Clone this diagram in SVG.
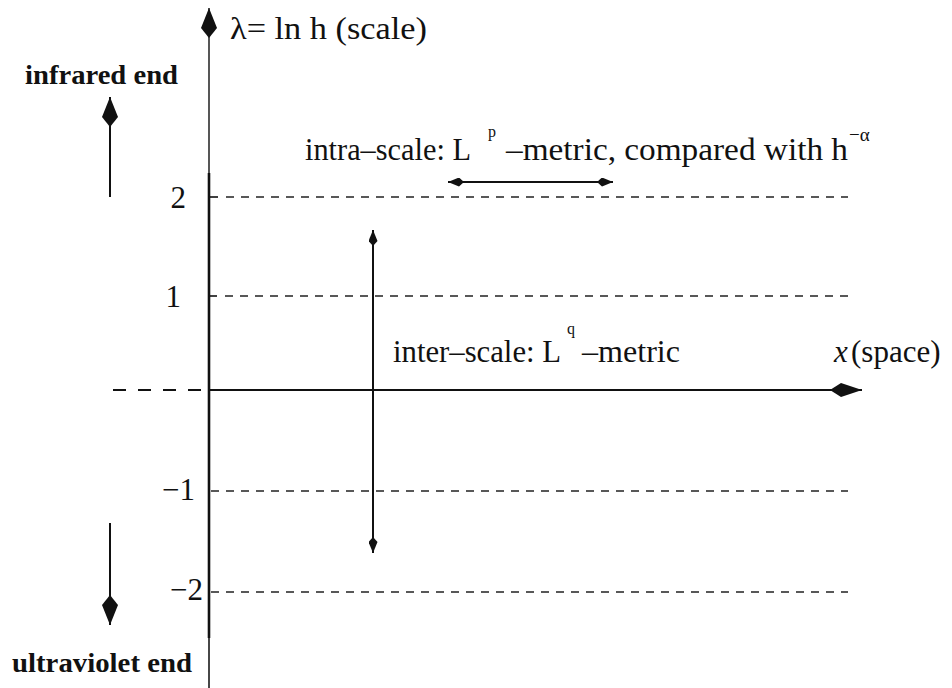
<svg xmlns="http://www.w3.org/2000/svg" width="952" height="688" viewBox="0 0 952 688">
<style>
.t{font-family:"Liberation Serif","Times New Roman",serif;font-size:31px;fill:#111}
.b{font-family:"Liberation Serif","Times New Roman",serif;font-size:27px;font-weight:bold;fill:#111}
.sup{font-family:"Liberation Serif","Times New Roman",serif;font-size:16px;fill:#111}
.ax{stroke:#111;stroke-width:2.2;fill:none}
.ar{stroke:#111;stroke-width:2;fill:none}
.dash{stroke:#222;stroke-width:1.6;stroke-dasharray:8 7;fill:none}
.dashL{stroke:#111;stroke-width:2;stroke-dasharray:13 12;fill:none}
.tick{stroke:#111;stroke-width:1.6}
</style>
<defs>
<marker id="big" markerUnits="userSpaceOnUse" viewBox="0 -8 30 16" markerWidth="30" markerHeight="16" refX="30" refY="0" orient="auto-start-reverse">
<path d="M30,0 L10,-8 L0,0 L10,8 Z" fill="#111"/>
</marker>
<marker id="bigh" markerUnits="userSpaceOnUse" viewBox="0 -7 32 14" markerWidth="32" markerHeight="14" refX="32" refY="0" orient="auto">
<path d="M32,0 L11,-7 L0,0 L11,7 Z" fill="#111"/>
</marker>
<marker id="sm" markerUnits="userSpaceOnUse" viewBox="0 -4.5 16 9" markerWidth="16" markerHeight="9" refX="16" refY="0" orient="auto-start-reverse">
<path d="M16,0 L5,-4.5 L0,0 L5,4.5 Z" fill="#111"/>
</marker>
</defs>

<g id="grid-lines">
<line class="tick" x1="209" y1="197" x2="218" y2="197"/>
<line class="dash" x1="226" y1="197" x2="848" y2="197"/>
<line class="tick" x1="209" y1="296" x2="217" y2="296"/>
<line class="dash" x1="225" y1="296" x2="848" y2="296"/>
<line class="dash" x1="211" y1="491" x2="848" y2="491"/>
<line class="dash" x1="211" y1="592" x2="848" y2="592"/>
<line class="dashL" x1="113" y1="390" x2="203" y2="390"/>
</g>

<g id="axes">
<line class="ax" x1="209" y1="173" x2="209" y2="8" marker-end="url(#big)" style="stroke:#444;stroke-width:1.8"/>
<line class="ax" x1="209" y1="173" x2="209" y2="638" style="stroke-width:2.6"/>
<line class="ax" x1="209" y1="638" x2="209" y2="688" style="stroke:#333;stroke-width:1.8"/>
<line class="ax" x1="209" y1="390" x2="862" y2="390" marker-end="url(#bigh)"/>
</g>

<g id="connectors">
<line class="ar" x1="110" y1="197" x2="110" y2="97" marker-end="url(#big)"/>
<line class="ar" x1="110" y1="523" x2="110" y2="625" marker-end="url(#big)"/>
<line class="ar" x1="448" y1="182" x2="613" y2="182" marker-start="url(#sm)" marker-end="url(#sm)"/>
<line class="ar" x1="373" y1="553" x2="373" y2="230" marker-start="url(#sm)" marker-end="url(#sm)"/>
</g>

<g id="axis-title">
<text class="t" x="230" y="39" textLength="197" lengthAdjust="spacingAndGlyphs">λ= ln h (scale)</text>
</g>
<g id="x-title">
<text class="t" x="834" y="362"><tspan font-style="italic">x</tspan><tspan x="851">(space)</tspan></text>
</g>

<g id="tick-labels">
<text class="t" x="186" y="208" text-anchor="end">2</text>
<text class="t" x="181" y="307" text-anchor="end">1</text>
<text class="t" x="195" y="500" text-anchor="end">−1</text>
<text class="t" x="203" y="600" text-anchor="end">−2</text>
</g>

<g id="infrared">
<text class="b" x="25" y="84" textLength="153" lengthAdjust="spacingAndGlyphs">infrared end</text>
</g>
<g id="ultraviolet">
<text class="b" x="12" y="672" textLength="180" lengthAdjust="spacingAndGlyphs">ultraviolet end</text>
</g>

<g id="intra-label">
<text class="t" x="305" y="160" textLength="166" lengthAdjust="spacingAndGlyphs">intra–scale: L</text>
<text class="sup" x="488" y="137">p</text>
<text class="t" x="506" y="160" textLength="342" lengthAdjust="spacingAndGlyphs">–metric, compared with h</text>
<text class="sup" x="849" y="141" style="font-size:19px">−α</text>
</g>

<g id="inter-label">
<text class="t" x="393" y="362" textLength="168" lengthAdjust="spacingAndGlyphs">inter–scale: L</text>
<text class="sup" x="567" y="334">q</text>
<text class="t" x="582" y="362" textLength="98" lengthAdjust="spacingAndGlyphs">–metric</text>
</g>
</svg>
